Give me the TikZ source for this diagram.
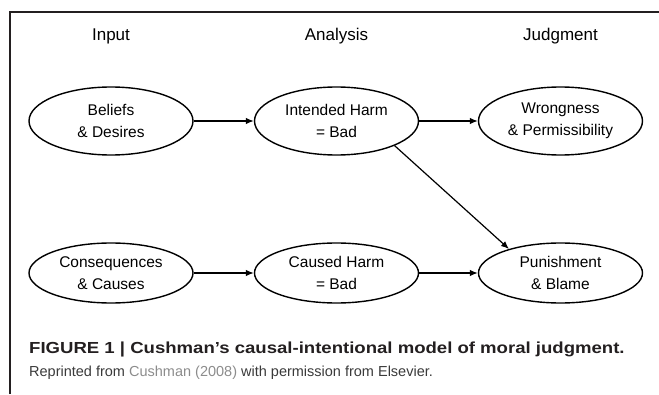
\documentclass[tikz,border=0pt]{standalone}
\usepackage{fontspec}
\setmainfont{Liberation Sans}
\usetikzlibrary{shapes.geometric,arrows.meta}
\definecolor{inkdark}{HTML}{231F20}
\definecolor{inkgray}{HTML}{3A3A3A}
\definecolor{linkgray}{HTML}{8C8C8C}
\tikzset{
  stage/.style={ellipse, draw=black, line width=1.4pt, fill=white,
    minimum width=164pt, inner sep=0pt, align=center,
    font=\fontsize{15.5}{22}\selectfont},
  tall/.style={stage, minimum height=68pt},
  short/.style={stage, minimum height=60pt},
  header/.style={font=\fontsize{17}{20}\selectfont},
  link/.style={line width=1.2pt, -{Latex[length=8pt,width=6.5pt]}},
}
\begin{document}
\begin{tikzpicture}[x=1pt,y=1pt]
  \useasboundingbox (0,0) rectangle (659,394);
  % panel frame
  \draw[line width=2pt, inkdark] (10,0) -- (10,382) -- (659,382);

  % column headers
  \node[header] (hin)  at (111,358)   {Input};
  \node[header] (han)  at (336.5,358) {Analysis};
  \node[header] (hjud) at (560.5,358) {Judgment};

  % upper row
  \node[tall] (bel) at (111,273)   {Beliefs\\\& Desires};
  \node[tall] (ih)  at (336.5,273) {Intended Harm\\= Bad};
  \node[tall] (wr)  at (560.5,273) {Wrongness\\\& Permissibility};

  % lower row
  \node[short] (con) at (111,121)   {Consequences\\\& Causes};
  \node[short] (ch)  at (336.5,121) {Caused Harm\\= Bad};
  \node[short] (pun) at (560.5,121) {Punishment\\\& Blame};

  % connectors
  \draw[link] (bel.east) -- (ih.west);
  \draw[link] (ih.east)  -- (wr.west);
  \draw[link] (con.east) -- (ch.west);
  \draw[link] (ch.east)  -- (pun.west);
  \draw[link] (ih.-23)   -- (pun.155);

  % caption
  \node[anchor=base west, inner sep=0pt, text=inkdark,
        font=\fontsize{16}{19}\selectfont\bfseries] (cap) at (29,41)
    {\scalebox{1.16}[1]{FIGURE 1 | Cushman’s causal-intentional model of moral judgment.}};
  \node[anchor=base west, inner sep=0pt, text=inkgray,
        font=\fontsize{14.5}{17}\selectfont] (src) at (29,18)
    {Reprinted from \textcolor{linkgray}{Cushman (2008)} with permission from Elsevier.};
\end{tikzpicture}
\end{document}
